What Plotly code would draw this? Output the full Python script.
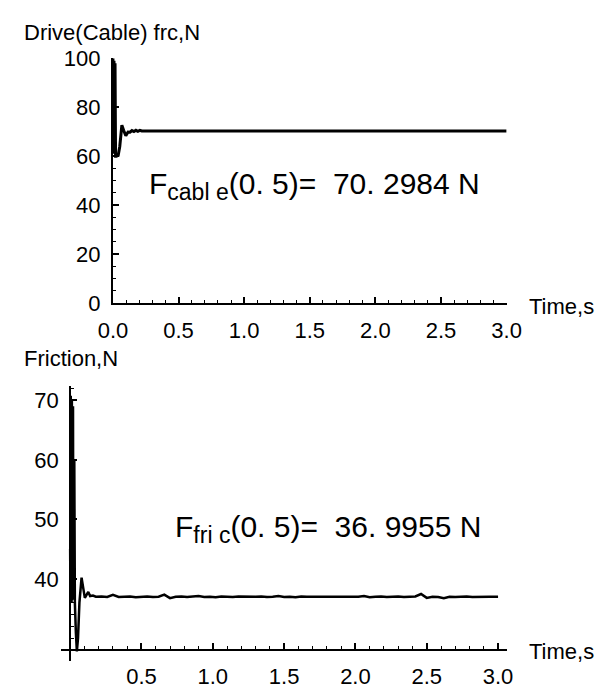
import plotly.graph_objects as go

W, H = 611, 699

# ---- data: drive (cable) force ----
cable_t = [0, 0.004, 0.008, 0.012, 0.016, 0.02, 0.026, 0.04, 0.052, 0.068, 0.082, 0.098, 0.115,
           0.13, 0.145, 0.16, 0.175, 0.19, 0.205, 0.22, 0.5, 1.0, 1.5, 2.0, 2.5, 3.0]
cable_v = [100, 61, 99, 62, 98, 60, 60, 60.3, 64, 72.7, 70.5, 68.4, 69.9,
           69.8, 70.5, 70.1, 70.6, 70.2, 70.6, 70.3, 70.3, 70.3, 70.3, 70.3, 70.3, 70.3]

# ---- data: friction force ----
fric_t_start = [0, 0.002, 0.004, 0.006, 0.008, 0.010, 0.012, 0.014, 0.016, 0.018,
                0.020, 0.022, 0.024, 0.026, 0.029, 0.033, 0.040, 0.047, 0.055,
                0.065, 0.080, 0.092, 0.103, 0.115, 0.127, 0.14, 0.16]
fric_v_start = [45, 36, 70.8, 36.5, 70.5, 36, 70, 36.5, 69.5, 37,
                69, 37.5, 68, 38, 60, 36, 31, 27.8, 30,
                36, 40.2, 38.5, 36.8, 37.3, 37.8, 37.1, 37.2]
fric_v_flat = [37.0, 37.05, 36.95, 37.3, 36.95, 37.0, 37.05, 36.9, 37.0, 37.05,
               36.95, 37.0, 37.35, 36.75, 37.0, 37.05, 36.95, 37.0, 37.1, 36.95,
               37.0, 36.9, 37.05, 37.0, 36.95, 37.05, 37.0, 36.95, 37.0, 37.05,
               36.95, 37.0, 37.1, 36.95, 37.0, 36.9, 37.05, 37.0, 37.0, 36.95,
               37.05, 37.0, 36.95, 37.0, 37.05, 36.95, 37.0, 37.1, 36.9, 37.0,
               37.05, 36.95, 37.0, 37.05, 36.95, 37.0, 37.05, 37.45, 36.8, 37.0,
               36.95, 36.75, 37.0, 36.95, 37.0, 37.05, 36.95, 37.0, 37.05, 37.0, 37.0]
fric_t_flat = [round(0.18 + 0.04 * k, 3) for k in range(len(fric_v_flat) - 1)] + [3.0]
fric_t = fric_t_start + fric_t_flat
fric_v = fric_v_start + fric_v_flat

top_xticks = [0, 0.5, 1.0, 1.5, 2.0, 2.5, 3.0]
top_xlabels = ["0.0", "0.5", "1.0", "1.5", "2.0", "2.5", "3.0"]
top_yticks = [0, 20, 40, 60, 80, 100]
bot_xticks = [0.5, 1.0, 1.5, 2.0, 2.5, 3.0]
bot_xlabels = ["0.5", "1.0", "1.5", "2.0", "2.5", "3.0"]
bot_yticks = [40, 50, 60, 70]

FONT = "Liberation Sans, Arial, Helvetica, sans-serif"
tickfont = dict(family=FONT, size=22, color="black")


def px(x):
    return x / W


def py(y):
    return 1 - y / H


fig = go.Figure()
fig.add_trace(go.Scatter(x=cable_t, y=cable_v, mode="lines",
                         line=dict(color="black", width=3), xaxis="x", yaxis="y"))
fig.add_trace(go.Scatter(x=fric_t, y=fric_v, mode="lines",
                         line=dict(color="black", width=2.5), xaxis="x2", yaxis="y2"))

axis_common = dict(showline=True, linecolor="black", linewidth=2, showgrid=False,
                   zeroline=False, ticks="inside", ticklen=6, tickwidth=1.5,
                   tickcolor="black", tickfont=tickfont)

fig.update_layout(
    width=W, height=H, margin=dict(l=0, r=0, t=0, b=0),
    paper_bgcolor="white", plot_bgcolor="white", showlegend=False,
    xaxis=dict(domain=[px(103), px(517)], range=[0, 3], anchor="y",
               tickvals=top_xticks, ticktext=top_xlabels, ticklabelstandoff=6,
               minor=dict(ticks="inside", ticklen=3, tickwidth=1.2, tickcolor="black",
                          dtick=0.1, tick0=0), **axis_common),
    yaxis=dict(domain=[py(302), py(48)], range=[0, 100], anchor="x",
               tickvals=top_yticks, ticklabelstandoff=6,
               minor=dict(ticks="inside", ticklen=3, tickwidth=1.2, tickcolor="black",
                          dtick=5, tick0=0), **axis_common),
    xaxis2=dict(domain=[px(48), px(517)], range=[-0.0667, 3.06], anchor="free",
                position=py(662), tickvals=bot_xticks, ticktext=bot_xlabels,
                ticklabelstandoff=6,
                minor=dict(ticks="inside", ticklen=3, tickwidth=1.2, tickcolor="black",
                           dtick=0.1, tick0=0), **axis_common),
    yaxis2=dict(domain=[py(673), py(388)], range=[26.2, 72.4], anchor="free",
                position=px(58), tickvals=bot_yticks, ticklabelstandoff=6,
                minor=dict(ticks="inside", ticklen=3, tickwidth=1.2, tickcolor="black",
                           dtick=2, tick0=0), **axis_common),
)

lab = dict(family=FONT, size=22, color="black")
ann = [
    dict(text="Drive(Cable) frc,N", x=px(7), y=py(21), xanchor="left", yanchor="middle"),
    dict(text="Friction,N", x=px(7), y=py(359), xanchor="left", yanchor="middle"),
    dict(text="Time,s", x=px(538), y=py(305), xanchor="left", yanchor="middle"),
    dict(text="Time,s", x=px(538), y=py(663), xanchor="left", yanchor="middle"),
]
for a in ann:
    fig.add_annotation(xref="paper", yref="paper", showarrow=False, font=lab, **a)

big = dict(family=FONT, size=30, color="black")
fig.add_annotation(xref="paper", yref="paper", showarrow=False, font=big,
                   text="F<sub><span style='font-size:23px'>cabl e</span></sub>(0. 5)=  70. 2984 N",
                   x=px(139), y=py(180), xanchor="left", yanchor="middle")
fig.add_annotation(xref="paper", yref="paper", showarrow=False, font=big,
                   text="F<sub><span style='font-size:23px'>fri c</span></sub>(0. 5)=  36. 9955 N",
                   x=px(166), y=py(536), xanchor="left", yanchor="middle")

fig.write_html("out.html")
